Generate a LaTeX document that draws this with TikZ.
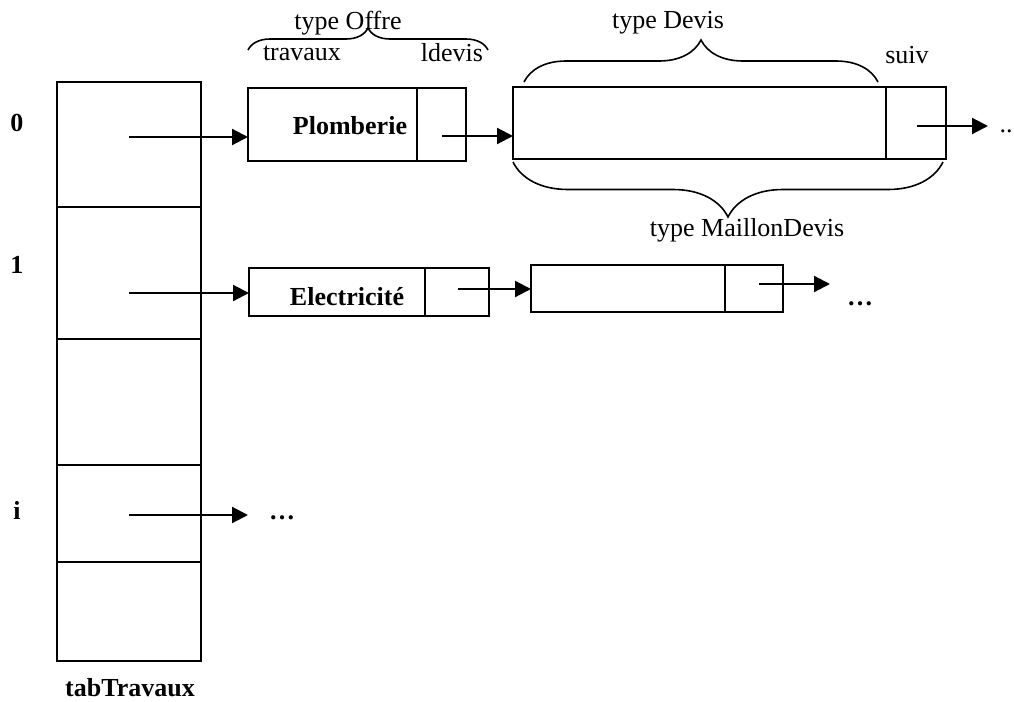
\documentclass[tikz,border=0pt]{standalone}
\usepackage{fontspec}
\setmainfont{Liberation Serif}
\usetikzlibrary{arrows.meta,decorations.pathreplacing}
\begin{document}
\begin{tikzpicture}[x=0.5pt,y=-0.5pt,
  cell/.style={draw, line width=1.1pt, inner sep=0pt, outer sep=0pt},
  lab/.style={inner sep=0pt, font=\fontsize{13}{15}\selectfont},
  blab/.style={inner sep=0pt, font=\fontsize{13}{15}\selectfont\bfseries},
  ptr/.style={line width=1.1pt, -{Triangle[length=8pt,width=8pt]}},
  brc/.style={line width=0.8pt, decorate, decoration={brace, amplitude=#1}}
]
\useasboundingbox (0,0) rectangle (1014,702);

% table tabTravaux
\node[cell, minimum width=72pt, minimum height=62.5pt] (c0) at (129,144.5) {};
\node[cell, minimum width=72pt, minimum height=66pt]   (c1) at (129,273) {};
\node[cell, minimum width=72pt, minimum height=63pt]   (c2) at (129,402) {};
\node[cell, minimum width=72pt, minimum height=48.5pt] (c3) at (129,513.5) {};
\node[cell, minimum width=72pt, minimum height=49.5pt] (c4) at (129,611.5) {};

\node[blab] (l0) at (17,123) {0};
\node[blab] (l1) at (17,265) {1};
\node[blab] (li) at (17,510) {i};
\node[blab] (tab) at (130,688) {tabTravaux};

% row 0 : Plomberie
\node[cell, minimum width=84.5pt, minimum height=36.5pt] (trav0) at (332.5,124.5) {};
\node[cell, minimum width=24.5pt, minimum height=36.5pt] (ldev0) at (441.5,124.5) {};
\node[blab] (tplomb) at (350,126) {Plomberie};

\node[cell, minimum width=186.5pt, minimum height=36pt] (dev0) at (699.5,123) {};
\node[cell, minimum width=30pt, minimum height=36pt] (suiv0) at (916,123) {};

\coordinate (a0) at (129,137);
\coordinate (s0) at (442,136);
\coordinate (n0) at (917,126);
\coordinate (e0) at (988,126);
\draw[ptr] (a0) -- (a0 -| trav0.west);
\draw[ptr] (s0) -- (s0 -| dev0.west);
\draw[ptr] (n0) -- (e0);
\node[lab] (d0) at (1006,131) {..};

% braces row 0
\coordinate (ob1) at (248,50);
\coordinate (ob2) at (488,50);
\draw[brc=11pt] (ob1) -- (ob2);
\node[lab] (toffre) at (348,23) {type Offre};
\node[lab] (ttrav) at (302,53) {travaux};
\node[lab] (tldev) at (452,53) {ldevis};

\coordinate (db1) at (524,82);
\coordinate (db2) at (878,82);
\draw[brc=21pt] (db1) -- (db2);
\node[lab] (tdevis) at (668,23) {type Devis};
\node[lab] (tsuiv) at (907,55) {suiv};

\coordinate (mb1) at (943,162);
\coordinate (mb2) at (513,162);
\draw[brc=27.5pt] (mb1) -- (mb2);
\node[lab] (tmaillon) at (747,230) {type MaillonDevis};

% row 1 : Electricite
\node[cell, minimum width=88pt, minimum height=24pt] (trav1) at (337,292) {};
\node[cell, minimum width=32pt, minimum height=24pt] (ldev1) at (457,292) {};
\node[blab] (telec) at (347,297) {Electricité};

\node[cell, minimum width=97pt, minimum height=23.5pt] (dev1) at (628,288.5) {};
\node[cell, minimum width=29pt, minimum height=23.5pt] (suiv1) at (754,288.5) {};

\coordinate (a1) at (129,293);
\coordinate (s1) at (458,289);
\coordinate (n1) at (759,284);
\coordinate (e1) at (830,284);
\draw[ptr] (a1) -- (a1 -| trav1.west);
\draw[ptr] (s1) -- (s1 -| dev1.west);
\draw[ptr] (n1) -- (e1);
\node[blab] (d1) at (860,304) {\dots};

% row i
\coordinate (ai) at (129,515);
\coordinate (ei) at (248,515);
\draw[ptr] (ai) -- (ei);
\node[blab] (di) at (282,518) {\dots};
\end{tikzpicture}
\end{document}
